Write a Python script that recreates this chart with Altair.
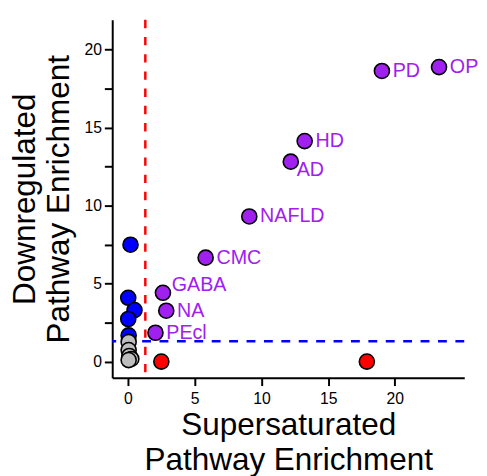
import altair as alt
import pandas as pd

# ---- data ----
red_x = [2.5, 17.9]
red_y = [0.0, 0.0]

blue_x = [0.19, 0.02, 0.49, 0.02, 0.05]
blue_y = [7.49, 4.09, 3.30, 2.73, 1.68]

purple_names = ["OP", "PD", "HD", "AD", "NAFLD", "CMC", "GABA", "NA", "PEcl"]
purple_x = [23.31, 19.03, 13.24, 12.20, 9.09, 5.82, 2.62, 2.87, 2.06]
purple_y = [18.87, 18.62, 14.13, 12.81, 9.30, 6.66, 4.41, 3.26, 1.85]

gray_x = [0.05, 0.05, 0.10, 0.25, 0.05]
gray_y = [1.26, 0.74, 0.36, 0.17, 0.10]

threshold = [1.3]  # -log10(0.05)

x_ticks = [0, 2.5, 5, 7.5, 10, 12.5, 15, 17.5, 20, 22.5]
y_ticks = [0, 2.5, 5, 7.5, 10, 12.5, 15, 17.5, 20]

groups = ["up", "down", "both", "none"]
colors = ["#FF0000", "#0000FF", "#A020F0", "#BEBEBE"]

rows = []
for x, y in zip(red_x, red_y):
    rows.append({"x": x, "y": y, "group": "up", "name": ""})
for x, y in zip(blue_x, blue_y):
    rows.append({"x": x, "y": y, "group": "down", "name": ""})
for n, x, y in zip(purple_names, purple_x, purple_y):
    rows.append({"x": x, "y": y, "group": "both", "name": n})
for x, y in zip(gray_x, gray_y):
    rows.append({"x": x, "y": y, "group": "none", "name": ""})
df = pd.DataFrame(rows)
thr = pd.DataFrame({"t": threshold})

W, H = 358, 364
FONT = "Liberation Sans"

xscale = alt.Scale(domain=[-1.18, 25.2], nice=False, zero=False)
yscale = alt.Scale(domain=[-1.03, 21.9], nice=False, zero=False)

common_axis = dict(
    grid=False, domainColor="black", domainWidth=2, tickColor="black",
    tickWidth=2, tickSize=8, labelFont=FONT, labelFontSize=16,
    labelColor="black", titleFont=FONT, titleFontSize=32,
    titleFontWeight="normal", titleColor="black", titleLineHeight=35,
    titleBaseline="alphabetic", labelExpr="datum.value % 5 == 0 ? datum.label : ''",
)

x_axis = alt.Axis(values=x_ticks, title=["Supersaturated", "Pathway Enrichment"],
                  titleX=W / 2, titleY=58, titleAlign="center", titleAngle=0,
                  labelPadding=5, **common_axis)
y_axis = alt.Axis(values=y_ticks, title=["Downregulated", "Pathway Enrichment"],
                  titleX=-79, titleY=H / 2, titleAlign="center", titleAngle=-90,
                  labelPadding=3, **common_axis)

base = alt.Chart(df)

points = base.mark_circle(size=235, opacity=1, stroke="black", strokeWidth=1.6).encode(
    x=alt.X("x:Q", scale=xscale, axis=x_axis),
    y=alt.Y("y:Q", scale=yscale, axis=y_axis),
    fill=alt.Fill("group:N", scale=alt.Scale(domain=groups, range=colors), legend=None),
)

vline = alt.Chart(thr).mark_rule(color="#FF0000", strokeWidth=2.5, strokeDash=[8.5, 9]).encode(
    x=alt.X("t:Q", scale=xscale)
)
hline = alt.Chart(thr).mark_rule(color="#0000FF", strokeWidth=2.5, strokeDash=[9, 8.7]).encode(
    y=alt.Y("t:Q", scale=yscale)
)

text_style = dict(font=FONT, fontSize=20, color="#A020F0", align="left", baseline="middle")
lab = base.transform_filter(
    "datum.name != '' && datum.name != 'GABA' && datum.name != 'AD'"
).mark_text(dx=11, dy=0, **text_style).encode(x="x:Q", y="y:Q", text="name:N")
lab_gaba = base.transform_filter("datum.name == 'GABA'").mark_text(
    dx=9, dy=-8, **text_style).encode(x="x:Q", y="y:Q", text="name:N")
lab_ad = base.transform_filter("datum.name == 'AD'").mark_text(
    dx=6, dy=9, **text_style).encode(x="x:Q", y="y:Q", text="name:N")

chart = alt.layer(vline, hline, points, lab, lab_gaba, lab_ad).properties(
    width=W, height=H,
    autosize=alt.AutoSizeParams(type="none"),
    padding={"left": 106, "top": 8, "right": 15, "bottom": 96},
).configure_view(stroke=None)

chart.save("out.html", embed_options={"renderer": "svg", "actions": False})
